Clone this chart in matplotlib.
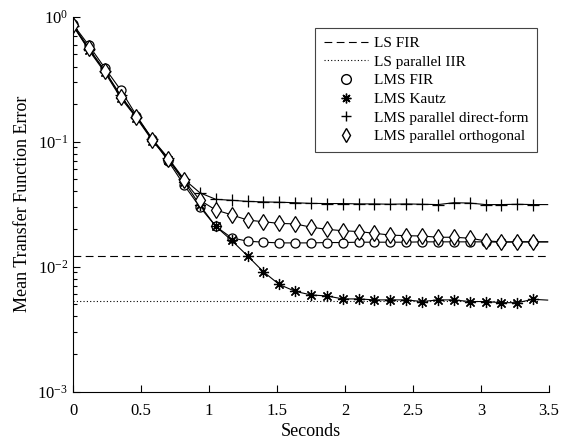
import numpy as np
import matplotlib
matplotlib.use("Agg")
import matplotlib.pyplot as plt

plt.rcParams['font.family'] = ['Liberation Serif', 'DejaVu Serif']
plt.rcParams['mathtext.fontset'] = 'custom'
plt.rcParams['mathtext.rm'] = 'Liberation Serif'
plt.rcParams['mathtext.it'] = 'Liberation Serif:italic'

# marker times (seconds) and line end
t = np.arange(30) * 3.5 / 30
t_end = 3.49

ls_fir = 0.0122
ls_iir = 0.00535

lms_fir = [0.87, 0.59, 0.39, 0.26, 0.162, 0.105, 0.070, 0.045, 0.030, 0.021,
           0.0170, 0.0160, 0.0157, 0.0155, 0.0155, 0.0155, 0.0156, 0.0156, 0.0157, 0.0157,
           0.0157, 0.0157, 0.0158, 0.0158, 0.0158, 0.0158, 0.0158, 0.0157, 0.0158, 0.0158]
lms_kautz = [0.85, 0.54, 0.36, 0.225, 0.155, 0.102, 0.072, 0.048, 0.031, 0.021,
             0.0162, 0.0122, 0.0091, 0.0072, 0.00635, 0.00594, 0.00583, 0.00552, 0.00552, 0.00542,
             0.00542, 0.00542, 0.00526, 0.00542, 0.00542, 0.00526, 0.00526, 0.00515, 0.00515, 0.00548]
lms_direct = [0.85, 0.55, 0.37, 0.235, 0.158, 0.105, 0.074, 0.050, 0.039, 0.0346,
              0.034, 0.0333, 0.033, 0.0328, 0.0325, 0.0321, 0.032, 0.032, 0.0318, 0.0318,
              0.0316, 0.0318, 0.0316, 0.0314, 0.0325, 0.0323, 0.0314, 0.0314, 0.0316, 0.0314]
lms_orth = [0.86, 0.56, 0.37, 0.23, 0.158, 0.104, 0.073, 0.049, 0.034, 0.0284,
            0.026, 0.0236, 0.0229, 0.0222, 0.0220, 0.0207, 0.0199, 0.0194, 0.0191, 0.0185,
            0.0179, 0.0177, 0.0176, 0.0172, 0.0172, 0.0169, 0.0161, 0.0158, 0.0158, 0.0158]
end_vals = [0.0158, 0.0054, 0.0314, 0.0158]

fig = plt.figure(figsize=(5.66, 4.42), dpi=100)
ax = fig.add_axes([0.129, 0.114, 0.841, 0.848])

lw = 0.8
ax.plot([0, t_end], [ls_fir, ls_fir], color='k', lw=lw, dashes=(7, 4), label='LS FIR')
ax.plot([0, 3.42], [ls_iir, ls_iir], color='k', lw=lw, ls=(0, (1, 2)), label='LS parallel IIR')

series = [
    (lms_fir, 'o', 6.5, 'LMS FIR'),
    (lms_kautz, (8, 2, 0), 8, 'LMS Kautz'),
    (lms_direct, '+', 8, 'LMS parallel direct-form'),
    (lms_orth, 'd', 8, 'LMS parallel orthogonal'),
]
for (vals, mk, ms, lab), ev in zip(series, end_vals):
    ax.plot(np.append(t, t_end), vals + [ev], color='k', lw=lw, marker=mk, ms=ms,
            mfc='white', mec='k', mew=0.9, markevery=slice(0, 30))
    ax.plot([], [], ls='none', marker=mk, ms=7, mfc='white', mec='k', mew=1.0, label=lab)

ax.set_yscale('log')
ax.set_xlim(0, 3.5)
ax.set_ylim(1e-3, 1)
ax.set_xticks([0, 0.5, 1, 1.5, 2, 2.5, 3, 3.5])
ax.set_xticklabels(['0', '0.5', '1', '1.5', '2', '2.5', '3', '3.5'])
ax.tick_params(direction='in', labelsize=12, length=5, width=0.8)
ax.tick_params(which='minor', direction='in', length=3, width=0.8)
ax.tick_params(axis='x', pad=8)
for s in ['top', 'right']:
    ax.spines[s].set_visible(False)
for s in ['left', 'bottom']:
    ax.spines[s].set_linewidth(0.8)

ax.set_xlabel('Seconds', fontsize=13, labelpad=3)
ax.set_ylabel('Mean Transfer Function Error', fontsize=13, labelpad=5)

leg = ax.legend(loc='upper right', bbox_to_anchor=(0.975, 0.97), fontsize=11,
                fancybox=False, framealpha=1, edgecolor='#444444', handlelength=2.9,
                labelspacing=0.32, borderpad=0.55, handletextpad=0.4, borderaxespad=0)
leg.get_frame().set_linewidth(0.8)

fig.savefig('out.png', dpi=100)
